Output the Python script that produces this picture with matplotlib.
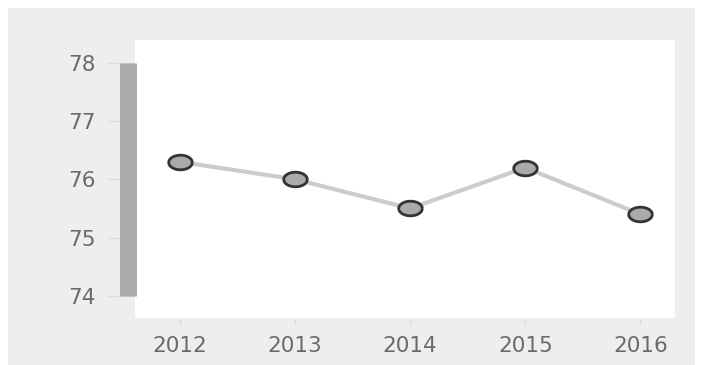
import numpy as np
import matplotlib.pyplot as plt
import matplotlib.transforms as mtransforms
from matplotlib.patches import Rectangle

years = [2012, 2013, 2014, 2015, 2016]
values = [76.3, 76.0, 75.5, 76.2, 75.4]
y_ticks = [74, 75, 76, 77, 78]

# markers in the source are slightly squashed circles
t = np.linspace(0, 2 * np.pi, 40)
ellipse = list(zip(np.cos(t), 0.62 * np.sin(t)))

fig = plt.figure(figsize=(7.03, 3.65), dpi=100)
fig.patch.set_facecolor("white")

# grey panel behind the chart
fig.patches.append(Rectangle((8 / 703, 0), 687 / 703, 357 / 365,
                             transform=fig.transFigure, facecolor="#eeeeee",
                             edgecolor="none", zorder=-10))

ax = fig.add_axes([135 / 703, 47 / 365, 540 / 703, 278 / 365])
ax.set_facecolor("white")

ax.plot(years, values, color="#cccccc", lw=3, zorder=2)
ax.plot(years, values, linestyle="none", marker=ellipse, ms=17,
        mfc="#aaaaaa", mec="#333333", mew=2, zorder=3)

ax.set_xlim(2011.61, 2016.30)
ax.set_ylim(73.62, 78.39)
ax.set_xticks(years)
ax.set_xticklabels([str(y) for y in years])
ax.set_yticks(y_ticks)

for s in ax.spines.values():
    s.set_visible(False)

ax.tick_params(axis="y", length=20, width=1, color="#dddddd", pad=8,
               labelsize=15.5, labelcolor="#6a6a6a")
ax.tick_params(axis="x", length=5, width=1, color="#dddddd", pad=8,
               labelsize=15.5, labelcolor="#6a6a6a")

# thick grey bar standing in for the y axis
trans = mtransforms.blended_transform_factory(ax.transAxes, ax.transData)
ax.plot([-0.013, -0.013], [74, 78], transform=trans, color="#aaaaaa",
        lw=12.2, solid_capstyle="butt", clip_on=False, zorder=5)

fig.savefig("out.png", dpi=100)
